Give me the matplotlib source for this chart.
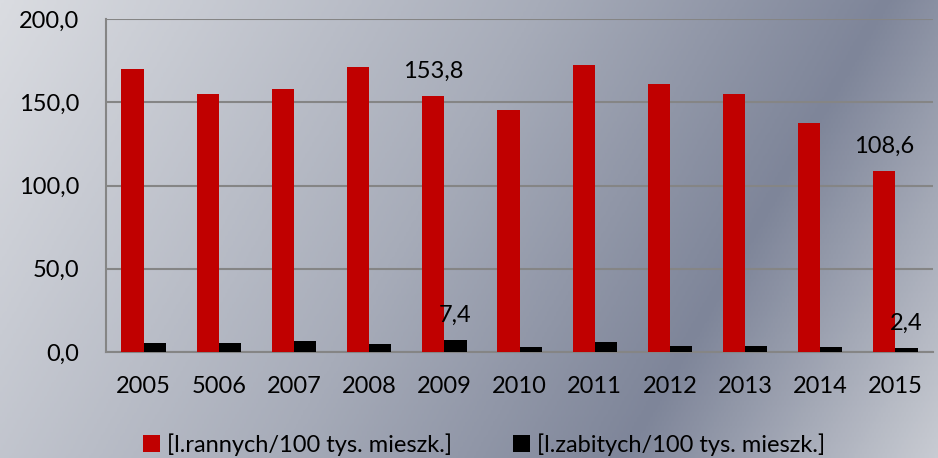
import numpy as np
import matplotlib
matplotlib.use("Agg")
import matplotlib.pyplot as plt
from matplotlib.colors import LinearSegmentedColormap
from matplotlib.ticker import FuncFormatter

# dane
lata = ['2005', '5006', '2007', '2008', '2009', '2010', '2011', '2012', '2013', '2014', '2015']
ranni = [170.0, 155.0, 157.8, 171.4, 153.8, 145.3, 172.6, 160.8, 154.8, 137.5, 108.6]
zabici = [5.2, 5.6, 6.8, 5.0, 7.4, 3.2, 5.8, 3.8, 3.8, 3.0, 2.4]
etykiety_ranni = ['', '', '', '', '153,8', '', '', '', '', '', '108,6']
etykiety_zabici = ['', '', '', '', '7,4', '', '', '', '', '', '2,4']
legenda = ['[l.rannych/100 tys. mieszk.]', '[l.zabitych/100 tys. mieszk.]']

plt.rcParams['font.family'] = ['Lato', 'DejaVu Sans']
fs = 17

fig = plt.figure(figsize=(9.38, 4.58), dpi=100)

# tlo - gradient
bg = fig.add_axes([0, 0, 1, 1], zorder=-1)
W, H = 400, 200
u, v = np.meshgrid(np.linspace(0, 1, W), np.linspace(0, 1, H))
t = (u + 0.28 * v) / 1.28
cmap = LinearSegmentedColormap.from_list('tlo', [(0.0, '#dadce1'), (0.45, '#a7acb9'),
                                               (0.74, '#7e8599'), (1.0, '#c8cbd2')])
bg.imshow(t, cmap=cmap, aspect='auto', extent=[0, 1, 0, 1], origin='upper', vmin=0, vmax=1)
bg.axis('off')

ax = fig.add_axes([0.113, 0.2314, 0.8817, 0.7271])
ax.patch.set_alpha(0)
x = np.arange(len(lata))
w = 0.295
b1 = ax.bar(x - w / 2, ranni, w, color='#c00000', label=legenda[0], zorder=3)
b2 = ax.bar(x + w / 2, zabici, w, color='#000000', label=legenda[1], zorder=3)
ax.bar_label(b1, labels=etykiety_ranni, padding=10, fontsize=fs)
ax.bar_label(b2, labels=etykiety_zabici, padding=10, fontsize=fs)

ax.set_xlim(-0.5, len(lata) - 0.5)
ax.set_ylim(0, 200)
ax.set_yticks([0, 50, 100, 150, 200])
ax.yaxis.set_major_formatter(FuncFormatter(lambda val, p: f"{val:.1f}".replace('.', ',')))
ax.set_xticks(x)
ax.set_xticklabels(lata)
ax.tick_params(axis='both', length=0, labelsize=fs)
ax.tick_params(axis='y', pad=19)
ax.tick_params(axis='x', pad=17)
ax.grid(axis='y', color='#858585', linewidth=1.5, zorder=0)
for s in ['top', 'right']:
    ax.spines[s].set_visible(False)
for s in ['left', 'bottom']:
    ax.spines[s].set_color('#858585')
    ax.spines[s].set_linewidth(1.5)

fig.legend(handles=[b1, b2], loc='center', bbox_to_anchor=(0.516, 0.03), ncol=2,
           frameon=False, fontsize=fs, handlelength=0.7, handleheight=0.7,
           handletextpad=0.3, columnspacing=2.6)

fig.savefig('out.png', dpi=100)
